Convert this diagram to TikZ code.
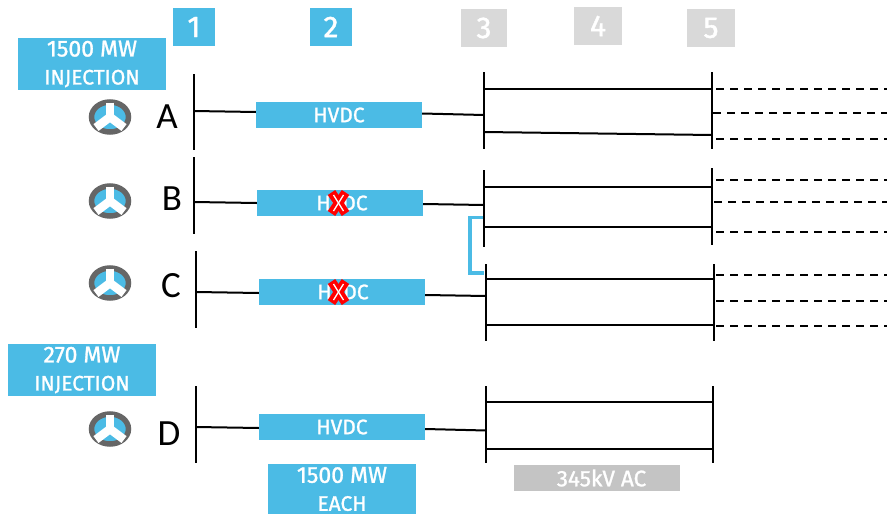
\documentclass[tikz,border=0pt]{standalone}
\usepackage{fontspec}
\setmainfont[FakeBold=1.2]{Fira Sans}
\newfontfamily\numfont[FakeBold=1.4]{Fira Sans}
\newfontfamily\lettfont{Carlito}
\usetikzlibrary{calc,shapes.geometric}
\definecolor{hv}{HTML}{4BBBE5}
\definecolor{gb}{HTML}{C4C4C4}
\definecolor{dg}{HTML}{D9D9D9}
\definecolor{tg}{HTML}{666666}
\tikzset{
 bar/.style={line width=2pt,black},
 dashline/.style={line width=2pt,black,dash pattern=on 8pt off 6pt},
 bluebox/.style={fill=hv,text=white,inner sep=0pt,align=center,font=\fontsize{21}{28}\selectfont},
 greybox/.style={fill=gb,text=white,inner sep=0pt,font=\fontsize{22.5}{24}\selectfont},
 hvdc/.style={bluebox,minimum width=166pt,minimum height=26pt,font=\fontsize{21}{24}\selectfont},
 numblue/.style={fill=hv,text=white,inner sep=0pt,font=\numfont\fontsize{30}{34}\selectfont},
 numgrey/.style={fill=dg,text=white,inner sep=0pt,font=\numfont\fontsize{30}{34}\selectfont},
 letter/.style={font=\lettfont\fontsize{37}{40}\selectfont,inner sep=0pt},
}
\newcommand{\turbine}[3]{%
 \node[ellipse,fill=hv,draw=tg,line width=5.5pt,minimum width=37pt,minimum height=30pt,inner sep=0pt] (#3) at (#1,#2) {};
 \draw[white,line width=8.5pt] (#1,#2-14.5) -- (#1,#2);
 \draw[white,line width=8.5pt] (#1-14,#2+10.5) -- (#1,#2) -- (#1+14,#2+10.5);
}
\newcommand{\redx}[2]{%
 \draw[red,line width=9pt] (#1-7,#2-10.5) -- (#1+7,#2+10.5);
 \draw[red,line width=9pt] (#1+7,#2-10.5) -- (#1-7,#2+10.5);
 \draw[white,line width=1.3pt] (#1-5,#2-8) -- (#1+5,#2+8);
 \draw[white,line width=1.3pt] (#1+5,#2-8) -- (#1-5,#2+8);
}
\begin{document}
\begin{tikzpicture}[x=1pt,y=-1pt]
\useasboundingbox (0,0) rectangle (887,514);
% number boxes
\node[numblue,minimum width=42pt,minimum height=38pt] (n1) at (194,27) {1};
\node[numblue,minimum width=42pt,minimum height=38pt] (n2) at (331,27) {2};
\node[numgrey,minimum width=46pt,minimum height=38pt] (n3) at (484,28) {3};
\node[numgrey,minimum width=48pt,minimum height=38pt] (n4) at (598,26) {4};
\node[numgrey,minimum width=48pt,minimum height=38pt] (n5) at (711,28) {5};
% labels
\node[bluebox,minimum width=148pt,minimum height=52pt] (inj1) at (92,64) {{\fontsize{23}{28}\selectfont 1500 MW}\\INJECTION};
\node[bluebox,minimum width=148pt,minimum height=52pt] (inj2) at (82,370) {{\fontsize{23}{28}\selectfont 270 MW}\\INJECTION};
\node[bluebox,minimum width=148pt,minimum height=50pt] (each) at (342,489) {{\fontsize{23}{28}\selectfont 1500 MW}\\EACH};
\node[greybox,minimum width=166pt,minimum height=26pt] (ac) at (597,478) {\hspace{9pt}345kV AC};
% turbines
\turbine{110}{117}{ta}
\turbine{110}{201}{tb}
\turbine{110}{283}{tc}
\turbine{110}{429}{td}
% letters
\node[letter] (la) at (167,117) {A};
\node[letter] (lb) at (172,199) {B};
\node[letter] (lc) at (171,286) {C};
\node[letter] (ld) at (169,434) {D};
% HVDC
\node[hvdc] (ha) at (339,115) {HVDC};
\node[hvdc] (hb) at (340,203) {\hspace{4pt}HVDC};
\node[hvdc] (hc) at (342,292) {\hspace{2pt}HVDC};
\node[hvdc] (hd) at (342,427) {HVDC};
\redx{338.5}{203}
\redx{338.5}{292}
% buses: 1
\coordinate (a1t) at (194,74); \coordinate (a1b) at (194,150);
\coordinate (b1t) at (194,157); \coordinate (b1b) at (194,234);
\coordinate (c1t) at (196,251); \coordinate (c1b) at (196,328);
\coordinate (d1t) at (196,386); \coordinate (d1b) at (196,463);
\foreach \n in {a,b,c,d} \draw[bar] (\n1t) -- (\n1b);
% buses: 3
\coordinate (a3t) at (484,72); \coordinate (a3b) at (484,149);
\coordinate (b3t) at (484,170); \coordinate (b3b) at (484,247);
\coordinate (c3t) at (486,264); \coordinate (c3b) at (486,341);
\coordinate (d3t) at (486,386); \coordinate (d3b) at (486,463);
\foreach \n in {a,b,c,d} \draw[bar] (\n3t) -- (\n3b);
% buses: 5
\coordinate (a5t) at (712,72); \coordinate (a5b) at (712,149);
\coordinate (b5t) at (712,168); \coordinate (b5b) at (712,245);
\coordinate (c5t) at (714,264); \coordinate (c5b) at (714,341);
\coordinate (d5t) at (713,386); \coordinate (d5b) at (713,463);
\foreach \n in {a,b,c,d} \draw[bar] (\n5t) -- (\n5b);
% feeders
\draw[bar] (194,111) -- ($(ha.west)+(0,-3)$); \draw[bar] ($(ha.east)+(0,-1.5)$) -- (484,115);
\draw[bar] (194,202) -- ($(hb.west)+(0,0)$); \draw[bar] ($(hb.east)+(0,1)$) -- (484,205);
\draw[bar] (196,292) -- ($(hc.west)+(0,1)$); \draw[bar] ($(hc.east)+(0,3)$) -- (486,296);
\draw[bar] (196,427) -- ($(hd.west)+(0,1)$); \draw[bar] ($(hd.east)+(0,2)$) -- (486,430.5);
% AC lines
\draw[bar] (484,89) -- (712,89);
\draw[bar] (484,132) -- (712,135);
\draw[bar] (484,187) -- (712,187);
\draw[bar] (484,227) -- (712,227);
\draw[bar] (486,279) -- (714,279);
\draw[bar] (486,325) -- (714,325);
\draw[bar] (486,402) -- (713,402);
\draw[bar] (486,449) -- (713,449);
% dashed
\foreach \y/\x in {89/716,113/713,139/716,180/716,202/714,232/716} \draw[dashline] (\x,\y) -- (887,\y);
\foreach \y/\x in {275/716,301/716,326/716} \draw[dashline] (\x,\y) -- (887,\y);
% bracket
\draw[hv,line width=3.5pt] (483,217.5) -- (470,217.5) -- (470,273) -- (484,273);
\end{tikzpicture}
\end{document}
